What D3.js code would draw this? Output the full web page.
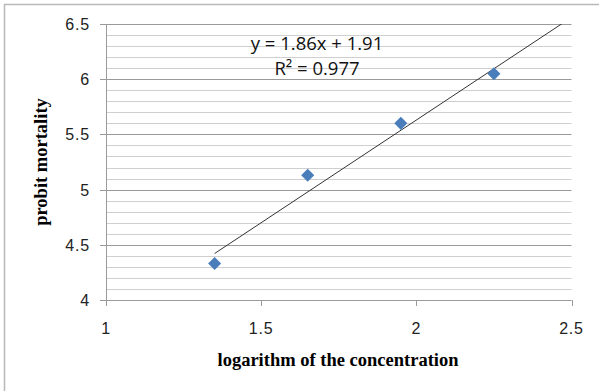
<!DOCTYPE html>
<html>
<head>
<meta charset="utf-8">
<script src="https://cdn.jsdelivr.net/npm/d3@7"></script>
<style>
body { margin: 0; background: #fff; }
svg { display: block; }
.tick-label { font-family: "Liberation Sans", Arial, sans-serif; font-size: 16px; fill: #222; letter-spacing: 0.8px; }
.axis-title { font-family: "Liberation Serif", "Times New Roman", serif; font-size: 18.5px; font-weight: bold; fill: #000; }
.eq { font-family: "Open Sans", "Liberation Sans", sans-serif; font-size: 18.5px; fill: #111; }
</style>
</head>
<body>
<svg width="599" height="391"></svg>
<script>
// data
const logConc = [1.35, 1.65, 1.95, 2.25]
const probit = [4.33, 5.13, 5.60, 6.05]
const trend = [1.86, 1.91]   // slope, intercept
const r2 = 0.977
const xTicks = [1, 1.5, 2, 2.5]
const yTicks = [4, 4.5, 5, 5.5, 6, 6.5]

const svg = d3.select("svg")

// outer border (only top and left visible)
svg.append("path")
	.attr("d", "M4.5,391 L4.5,4.5 L599,4.5")
	.attr("fill", "none")
	.attr("stroke", "#b8b8b8")
	.attr("stroke-width", 1.5)

const x = d3.scaleLinear().domain([1, 2.5]).range([106, 571.5])
const y = d3.scaleLinear().domain([4, 6.5]).range([300, 24])

// minor gridlines
const minor = d3.range(40, 65).map(d => d / 10).filter(d => !yTicks.includes(d))
svg.append("g")
	.selectAll("line")
	.data(minor)
	.enter()
	.append("line")
	.attr("x1", x(1)).attr("x2", x(2.5))
	.attr("y1", d => Math.round(y(d)) + 0.5)
	.attr("y2", d => Math.round(y(d)) + 0.5)
	.attr("stroke", "#cfcfcf")

// major gridlines
svg.append("g")
	.selectAll("line")
	.data(yTicks.slice(1))
	.enter()
	.append("line")
	.attr("x1", x(1) - 6).attr("x2", x(2.5))
	.attr("y1", d => Math.round(y(d)) + 0.5)
	.attr("y2", d => Math.round(y(d)) + 0.5)
	.attr("stroke", "#9a9a9a")

// axes lines
svg.append("line")
	.attr("x1", x(1) + 0.5).attr("x2", x(1) + 0.5)
	.attr("y1", y(6.5)).attr("y2", y(4))
	.attr("stroke", "#9a9a9a")
svg.append("line")
	.attr("x1", x(1) - 6).attr("x2", x(2.5))
	.attr("y1", Math.round(y(4)) + 0.5).attr("y2", Math.round(y(4)) + 0.5)
	.attr("stroke", "#9a9a9a")

// x ticks
svg.append("g")
	.selectAll("line")
	.data(xTicks)
	.enter()
	.append("line")
	.attr("x1", d => Math.round(x(d)) + 0.5)
	.attr("x2", d => Math.round(x(d)) + 0.5)
	.attr("y1", y(4)).attr("y2", y(4) + 6)
	.attr("stroke", "#9a9a9a")

// tick labels
svg.append("g")
	.selectAll("text")
	.data(yTicks)
	.enter()
	.append("text")
	.attr("class", "tick-label")
	.attr("x", 90)
	.attr("y", d => y(d) + 6)
	.attr("text-anchor", "end")
	.text(d => d)

svg.append("g")
	.selectAll("text")
	.data(xTicks)
	.enter()
	.append("text")
	.attr("class", "tick-label")
	.attr("x", d => x(d))
	.attr("y", 334)
	.attr("text-anchor", "middle")
	.text(d => d)

// trendline, clipped to plot area
svg.append("clipPath").attr("id", "plot")
	.append("rect")
	.attr("x", x(1)).attr("y", y(6.5))
	.attr("width", x(2.5) - x(1)).attr("height", y(4) - y(6.5))

const x0 = d3.min(logConc), x1 = d3.max(logConc) + 0.4
svg.append("line")
	.attr("clip-path", "url(#plot)")
	.attr("x1", x(x0)).attr("y1", y(trend[0] * x0 + trend[1]))
	.attr("x2", x(x1)).attr("y2", y(trend[0] * x1 + trend[1]))
	.attr("stroke", "#333")
	.attr("stroke-width", 1)

// points
svg.append("g")
	.selectAll("path")
	.data(logConc)
	.enter()
	.append("path")
	.attr("d", d3.symbol().type(d3.symbolSquare).size(85))
	.attr("transform", (d, i) => `translate(${x(d)},${y(probit[i])}) rotate(45)`)
	.attr("fill", "#4a7ebb")

// equation
svg.append("text")
	.attr("class", "eq")
	.attr("x", 317).attr("y", 50)
	.attr("text-anchor", "middle")
	.text(`y = ${trend[0]}x + ${trend[1]}`)
svg.append("text")
	.attr("class", "eq")
	.attr("x", 317).attr("y", 75)
	.attr("text-anchor", "middle")
	.text(`R² = ${r2}`)

// axis titles
svg.append("text")
	.attr("class", "axis-title")
	.attr("x", 338).attr("y", 366)
	.attr("text-anchor", "middle")
	.text("logarithm of the concentration")
svg.append("text")
	.attr("class", "axis-title")
	.attr("transform", "translate(47,162) rotate(-90)")
	.attr("text-anchor", "middle")
	.text("probit mortality")
</script>
</body>
</html>
